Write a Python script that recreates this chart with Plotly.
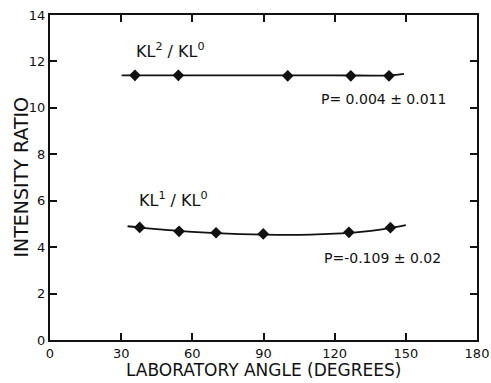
import plotly.graph_objects as go

# KL2/KL0 data
angle_kl2 = [35.8, 54.1, 100.2, 126.8, 142.9]
ratio_kl2 = [11.4, 11.4, 11.38, 11.38, 11.38]
err_kl2 = [0.22, 0.22, 0.22, 0.2, 0.2]
fit_angle_kl2 = [30.2, 60, 90, 120, 143, 149.2]
fit_ratio_kl2 = [11.4, 11.4, 11.4, 11.4, 11.4, 11.46]

# KL1/KL0 data
angle_kl1 = [37.8, 54.4, 70.0, 89.9, 126.0, 143.5]
ratio_kl1 = [4.85, 4.68, 4.62, 4.57, 4.64, 4.84]
err_kl1 = [0.2, 0.15, 0.1, 0.15, 0.1, 0.15]
fit_angle_kl1 = [32.7, 40, 50, 60, 70, 80, 90, 100, 110, 120, 130, 140, 150]
fit_ratio_kl1 = [4.9, 4.82, 4.73, 4.66, 4.6, 4.56, 4.54, 4.53, 4.54, 4.58, 4.65, 4.77, 4.95]

x_ticks = [0, 30, 60, 90, 120, 150, 180]
y_ticks = [0, 2, 4, 6, 8, 10, 12, 14]

FONT = "DejaVu Sans"
BLACK = "#111111"

fig = go.Figure()
fig.add_trace(go.Scatter(x=fit_angle_kl2, y=fit_ratio_kl2, mode="lines",
                         line=dict(color=BLACK, width=1.8, shape="spline"), showlegend=False))
fig.add_trace(go.Scatter(x=fit_angle_kl1, y=fit_ratio_kl1, mode="lines",
                         line=dict(color=BLACK, width=1.8, shape="spline"), showlegend=False))
fig.add_trace(go.Scatter(x=angle_kl2, y=ratio_kl2, mode="markers",
                         marker=dict(symbol="diamond", size=9, color=BLACK),
                         error_y=dict(type="data", array=err_kl2, width=0, thickness=1.5, color=BLACK),
                         showlegend=False))
fig.add_trace(go.Scatter(x=angle_kl1, y=ratio_kl1, mode="markers",
                         marker=dict(symbol="diamond", size=9, color=BLACK),
                         error_y=dict(type="data", array=err_kl1, width=0, thickness=1.5, color=BLACK),
                         showlegend=False))

fig.add_annotation(x=51, y=12.45, text="KL<sup>2</sup> / KL<sup>0</sup>", showarrow=False,
                   font=dict(family=FONT, size=16, color=BLACK))
fig.add_annotation(x=52, y=6.05, text="KL<sup>1</sup> / KL<sup>0</sup>", showarrow=False,
                   font=dict(family=FONT, size=16, color=BLACK))
fig.add_annotation(x=140.5, y=10.4, text="P= 0.004 ± 0.011", showarrow=False,
                   font=dict(family=FONT, size=14, color=BLACK))
fig.add_annotation(x=140, y=3.55, text="P=-0.109 ± 0.02", showarrow=False,
                   font=dict(family=FONT, size=14, color=BLACK))

# axis titles
fig.add_annotation(xref="paper", yref="paper", x=0.5, y=-0.13, yanchor="bottom",
                   text="LABORATORY ANGLE (DEGREES)", showarrow=False,
                   font=dict(family=FONT, size=17, color=BLACK))
fig.add_annotation(xref="paper", yref="paper", x=-0.07, y=0.5, xanchor="center",
                   textangle=-90, text="INTENSITY RATIO", showarrow=False,
                   font=dict(family=FONT, size=19, color=BLACK))

axis_common = dict(showgrid=False, zeroline=False, showline=True, linecolor=BLACK, linewidth=2,
                   ticks="inside", ticklen=7, tickwidth=1.5, tickcolor=BLACK, mirror="ticks",
                   automargin=False,
                   tickfont=dict(family=FONT, size=13, color=BLACK))

fig.update_layout(
    width=491, height=383,
    margin=dict(l=50, r=14, t=15, b=43),
    paper_bgcolor="white", plot_bgcolor="white",
    xaxis=dict(range=[0, 180], tickvals=x_ticks, ticktext=[str(v) for v in x_ticks],
               **axis_common),
    yaxis=dict(range=[0, 14], tickvals=y_ticks, ticktext=[str(v) for v in y_ticks],
               ticklabelstandoff=0,
               **axis_common),
)

fig.write_html("out.html", config={"displayModeBar": False},
               post_script="document.body.style.margin='0';document.body.style.padding='0';")
